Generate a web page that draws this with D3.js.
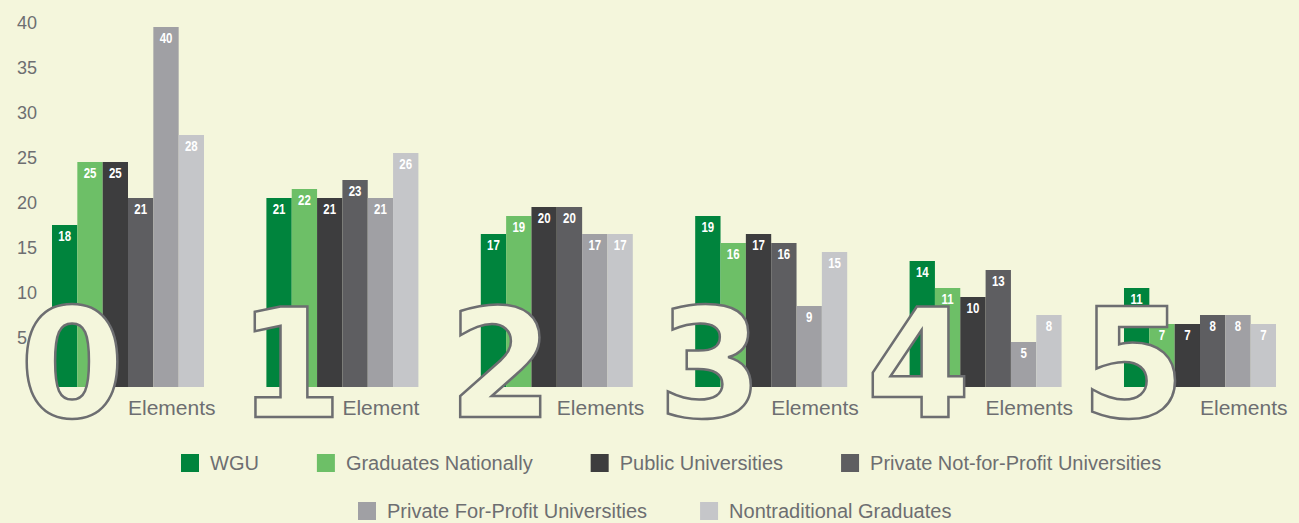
<!DOCTYPE html>
<html>
<head>
<meta charset="utf-8">
<script src="https://cdn.jsdelivr.net/npm/d3@7"></script>
<style>
  html, body { margin: 0; padding: 0; background: #f4f6dc; }
  svg { display: block; }
</style>
</head>
<body>
<script>
// data
var groups = ['0', '1', '2', '3', '4', '5']
var groupLabels = ['Elements', 'Element', 'Elements', 'Elements', 'Elements', 'Elements']
var seriesNames = ['WGU', 'Graduates Nationally', 'Public Universities',
    'Private Not-for-Profit Universities', 'Private For-Profit Universities', 'Nontraditional Graduates']
var wgu          = [18, 21, 17, 19, 14, 11]
var gradsNat     = [25, 22, 19, 16, 11, 7]
var publicU      = [25, 21, 20, 17, 10, 7]
var privNonProf  = [21, 23, 20, 16, 13, 8]
var privForProf  = [40, 21, 17, 9, 5, 8]
var nontrad      = [28, 26, 17, 15, 8, 7]
var yTicks = [5, 10, 15, 20, 25, 30, 35, 40]

var seriesValues = [wgu, gradsNat, publicU, privNonProf, privForProf, nontrad]
var colors = ['#00843d', '#6dbf67', '#3d3d3e', '#5e5e61', '#a0a0a4', '#c5c6c9']

var width = 1299
var height = 523
var textGray = '#6d6e71'
var bg = '#f4f6dc'

var svg = d3.select('body').append('svg')
    .attr('width', width)
    .attr('height', height)

// scales
var y = d3.scaleLinear()
    .domain([0, 40])
    .range([387, 27])

var x0 = d3.scaleBand()
    .domain(groups)
    .range([52, 1276])
    .paddingInner(0.291)

var x1 = d3.scaleBand()
    .domain(d3.range(seriesNames.length))
    .range([0, x0.bandwidth()])

// y tick labels, no axis line
svg.append('g')
    .selectAll('text')
    .data(yTicks)
    .join('text')
    .attr('x', 17)
    .attr('y', function(d){ return y(d) + 2 })
    .attr('fill', textGray)
    .style('font-family', 'Liberation Sans, Arial, sans-serif')
    .style('font-size', '18px')
    .text(function(d){ return d })

// flatten into one row per bar
var rows = []
groups.forEach(function(g, gi){
    seriesValues.forEach(function(vals, si){
        rows.push({group: g, series: si, value: vals[gi]})
    })
})

var chart = svg.append('g')

chart.selectAll('rect')
    .data(rows)
    .join('rect')
    .attr('x', function(d){ return x0(d.group) + x1(d.series) })
    .attr('y', function(d){ return y(d.value) })
    .attr('width', x1.bandwidth())
    .attr('height', function(d){ return y(0) - y(d.value) })
    .attr('fill', function(d){ return colors[d.series] })

// value labels (squeezed to look condensed)
chart.selectAll('text.val')
    .data(rows)
    .join('text')
    .attr('class', 'val')
    .attr('transform', function(d){
        var cx = x0(d.group) + x1(d.series) + x1.bandwidth()/2
        return 'translate(' + cx + ',' + (y(d.value) + 16) + ') scale(0.82,1)'
    })
    .attr('text-anchor', 'middle')
    .attr('fill', '#ffffff')
    .style('font-family', 'Liberation Sans, Arial, sans-serif')
    .style('font-weight', 'bold')
    .style('font-size', '14px')
    .text(function(d){ return d.value })

// big outlined numerals
var numOffset = [20, 24, 20, 15, 9, 9]
svg.append('g')
    .selectAll('text')
    .data(groups)
    .join('text')
    .attr('x', function(d, i){ return x0(d) + numOffset[i] })
    .attr('y', 417)
    .attr('text-anchor', 'middle')
    .attr('fill', bg)
    .attr('stroke', textGray)
    .attr('stroke-width', 2.5)
    .style('font-family', 'DejaVu Sans, sans-serif')
    .style('font-weight', 'bold')
    .style('font-size', '151px')
    .text(function(d){ return d })

// group captions
svg.append('g')
    .selectAll('text')
    .data(groups)
    .join('text')
    .attr('x', function(d){ return x0(d) + 76 })
    .attr('y', 415)
    .attr('fill', textGray)
    .style('font-family', 'Liberation Sans, Arial, sans-serif')
    .style('font-size', '21px')
    .text(function(d, i){ return groupLabels[i] })

// legend
var legendRows = [[0, 1, 2, 3], [4, 5]]
var legendStart = [181, 358]
var legendGap = [58, 53]
var legendY = [463, 511]
legendRows.forEach(function(items, r){
    var lx = legendStart[r]
    items.forEach(function(si){
        var g = svg.append('g').attr('transform', 'translate(' + lx + ',' + legendY[r] + ')')
        g.append('rect')
            .attr('x', 0)
            .attr('y', -9)
            .attr('width', 18)
            .attr('height', 18)
            .attr('fill', colors[si])
        var t = g.append('text')
            .attr('x', 29)
            .attr('y', 7)
            .attr('fill', textGray)
            .style('font-family', 'Liberation Sans, Arial, sans-serif')
            .style('font-size', '20px')
            .text(seriesNames[si])
        lx += 29 + t.node().getComputedTextLength() + legendGap[r]
    })
})
</script>
</body>
</html>
